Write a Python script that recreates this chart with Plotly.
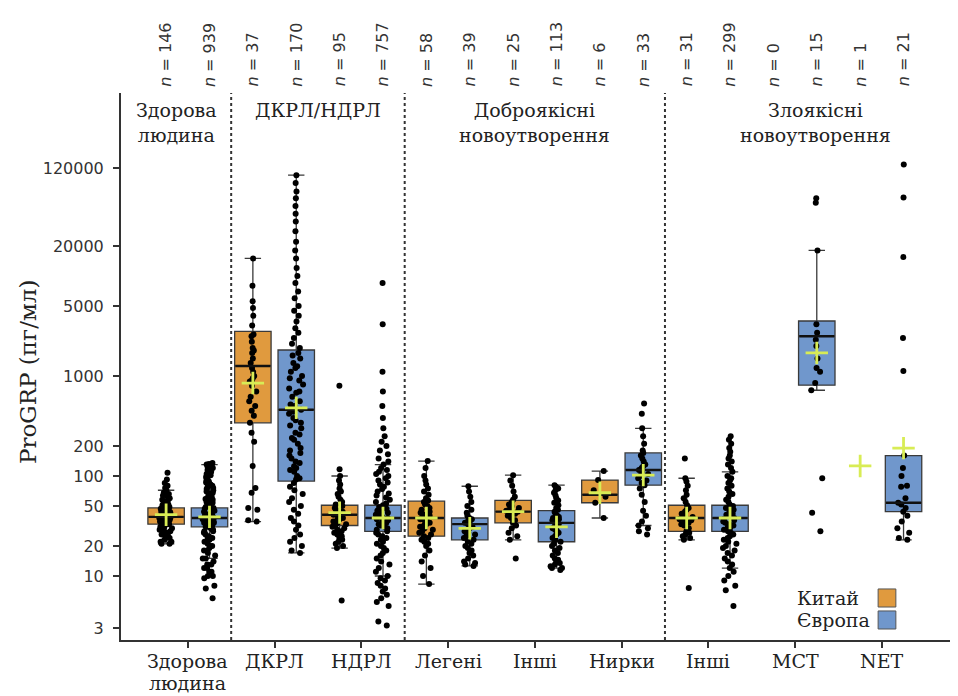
import plotly.graph_objects as go

# ---------------- data ----------------
categories = ["Здорова<br>людина", "ДКРЛ", "НДРЛ", "Легені", "Інші", "Нирки", "Інші", "MCT", "NET"]
group_titles = ["Здорова<br>людина", "ДКРЛ/НДРЛ", "Доброякісні<br>новоутворення", "Злоякісні<br>новоутворення"]
group_members = [[0], [1, 2], [3, 4, 5], [6, 7, 8]]

n_china = [146, 37, 95, 58, 25, 6, 31, 0, 1]
n_europe = [939, 170, 757, 39, 113, 33, 299, 15, 21]

# box statistics (pg/ml)
cn_q1 = [33, 340, 32, 25, 34, 54, 28, None, None]
cn_med = [39, 1260, 41, 38, 44, 65, 38, None, None]
cn_q3 = [48, 2800, 51, 56, 57, 91, 51, None, None]
cn_lo = [21, 35, 19, 8.3, 23, 38, 23, None, None]
cn_hi = [72, 15000, 100, 141, 102, 112, 95, None, None]
cn_mean = [41, 850, 43, 38, 44, 68, 38, None, 126]

eu_q1 = [31, 89, 28, 23, 22, 81, 28, 810, 44]
eu_med = [38, 460, 38, 33, 34, 115, 38, 2500, 54]
eu_q3 = [48, 1820, 51, 38, 45, 170, 51, 3550, 160]
eu_lo = [15, 17, 10, 12.6, 12, 32, 12, 720, 23]
eu_hi = [130, 102000, 130, 79, 81, 300, 110, 18000, 160]
eu_mean = [39, 480, 38, 30, 31, 102, 38, 1700, 190]

cn_points = [
    [108, 92, 85, 80, 76, 72, 70, 68, 66, 64, 62, 60, 58, 57, 55, 54, 52, 51, 50, 49, 48, 47, 46, 45, 44, 44,
     43, 42, 42, 41, 40, 40, 39, 39, 38, 38, 37, 37, 36, 36, 35, 35, 34, 34, 33, 33, 32, 31, 31, 30, 30, 29,
     28, 28, 27, 26, 26, 25, 24, 24, 23, 22, 22, 21, 21],
    [15000, 8000, 5600, 4800, 4000, 3200, 2600, 2500, 2200, 1900, 1800, 1700, 1500, 1350, 1200, 1100, 1000,
     950, 900, 880, 800, 700, 620, 560, 500, 450, 400, 340, 270, 220, 126, 76, 68, 48, 46, 36, 35],
    [800, 117, 100, 90, 82, 75, 70, 66, 62, 58, 55, 52, 50, 48, 46, 45, 44, 43, 42, 41, 40, 39, 38, 37, 36,
     35, 34, 33, 32, 31, 30, 29, 28, 27, 26, 25, 24, 23, 22, 21, 20, 19, 5.7],
    [141, 120, 100, 90, 82, 75, 70, 65, 60, 57, 55, 52, 50, 48, 46, 44, 43, 42, 41, 40, 39, 38, 37, 36, 35,
     34, 33, 32, 31, 30, 29, 28, 27, 26, 25, 24, 23, 22, 21, 20, 18, 16, 14, 12, 10, 8.3],
    [102, 90, 80, 70, 62, 58, 55, 52, 50, 48, 46, 45, 44, 43, 42, 40, 38, 36, 34, 32, 30, 27, 25, 23, 15],
    [112, 91, 72, 62, 54, 38],
    [150, 95, 88, 80, 72, 65, 60, 55, 51, 48, 46, 44, 42, 40, 39, 38, 37, 36, 35, 34, 33, 32, 30, 28, 27,
     26, 25, 24, 23, 7.6],
    [],
    [],
]
eu_points = [
    [135, 132, 130, 128, 125, 122, 120, 118, 115, 112, 110, 108, 105, 102, 100, 98, 95, 92, 90, 88, 86, 84,
     82, 80, 78, 76, 74, 72, 70, 68, 66, 64, 62, 60, 59, 58, 56, 55, 54, 52, 51, 50, 49, 48, 47, 46, 45, 44,
     43, 42, 41, 40, 40, 39, 38, 38, 37, 36, 36, 35, 34, 34, 33, 32, 31, 31, 30, 29, 28, 28, 27, 26, 25, 24,
     24, 23, 22, 21, 20, 20, 19, 18, 18, 17, 16, 15, 15, 14, 13, 13, 12, 12, 11, 11, 10, 10, 9.5, 8, 7.5, 6],
    [102000, 85000, 70000, 60000, 50000, 42000, 35000, 28000, 22000, 18000, 15000, 12000, 10000, 8500, 7000,
     6000, 5000, 4500, 4000, 3500, 3000, 2700, 2400, 2100, 1900, 1700, 1600, 1500, 1350, 1250, 1200, 1100,
     1000, 950, 900, 820, 750, 700, 680, 620, 560, 520, 500, 460, 440, 420, 380, 360, 340, 320, 300, 270,
     260, 240, 230, 210, 190, 180, 170, 160, 150, 140, 135, 125, 120, 115, 110, 100, 95, 92, 85, 78, 72, 66,
     60, 55, 50, 46, 42, 38, 35, 32, 29, 26, 24, 22, 20, 18, 17],
    [8500, 3300, 1100, 700, 500, 380, 300, 250, 220, 200, 180, 165, 150, 140, 130, 120, 115, 110, 105, 100,
     95, 90, 86, 82, 78, 74, 70, 67, 64, 61, 58, 55, 53, 51, 49, 47, 45, 44, 43, 42, 41, 40, 39, 38, 37, 36,
     35, 34, 33, 32, 31, 30, 29, 28, 27, 26, 25, 24, 23, 22, 21, 20, 19, 18, 17, 16, 15, 14, 13, 12, 11, 10,
     9.5, 9, 8.5, 8, 7.5, 7, 6.5, 6, 5.5, 5, 3.5, 3.2],
    [79, 70, 62, 55, 50, 46, 43, 40, 38, 37, 36, 35, 34, 33, 32, 31, 30, 29, 28, 27, 26, 25, 24, 23, 22, 21,
     20, 19, 18, 17, 16, 15, 14, 13.5, 13, 12.6],
    [81, 78, 75, 72, 68, 64, 60, 57, 54, 51, 48, 46, 44, 42, 40, 39, 38, 37, 36, 35, 34, 33, 32, 31, 30, 29,
     28, 27, 26, 25, 24, 23, 22, 21, 20, 19, 18, 17, 16, 15, 14.5, 14, 13.5, 13, 12.5, 12, 12, 11.5],
    [530, 420, 300, 250, 210, 180, 170, 160, 150, 140, 130, 125, 120, 115, 110, 105, 100, 95, 90, 85, 81,
     75, 65, 55, 45, 40, 35, 32, 30, 28, 26],
    [250, 230, 210, 190, 175, 160, 150, 140, 130, 120, 110, 100, 95, 90, 85, 80, 75, 70, 66, 62, 58, 55, 52,
     50, 48, 46, 44, 42, 41, 40, 39, 38, 37, 36, 35, 34, 33, 32, 31, 30, 29, 28, 27, 26, 25, 24, 23, 22, 21,
     20, 19, 18, 17, 16, 15, 14, 13, 12, 11, 10, 9, 8, 7.2, 5],
    [60000, 54000, 18000, 3300, 2700, 2300, 2000, 1500, 1200, 1100, 850, 720, 95, 43, 28],
    [130000, 61000, 15500, 2400, 1120, 160, 120, 100, 80, 78, 60, 54, 52, 48, 44, 40, 35, 30, 27, 24, 23],
]

y_tickvals = [3, 10, 20, 50, 100, 200, 1000, 5000, 20000, 120000]
y_ticktext = ["3", "10", "20", "50", "100", "200", "1000", "5000", "20000", "120000"]
legend_names = ["Китай", "Європа"]

# ---------------- style ----------------
C_CN = "#E09A3E"
C_EU = "#7097CC"
C_MEAN = "#D8EC55"
C_LINE = "#3a3a3a"
OFF = 0.25
BOXW = 0.42
X_RANGE = [-0.77, 8.97]
SERIF = "DejaVu Serif"
SANS = "DejaVu Sans"

fig = go.Figure()

series = [
    (C_CN, -OFF, cn_q1, cn_med, cn_q3, cn_lo, cn_hi, cn_mean, cn_points, n_china),
    (C_EU, +OFF, eu_q1, eu_med, eu_q3, eu_lo, eu_hi, eu_mean, eu_points, n_europe),
]

# boxes
for color, off, q1, med, q3, lo, hi, mean, pts, ns in series:
    for i in range(len(categories)):
        if q1[i] is None:
            continue
        fig.add_trace(go.Box(
            x=[i + off], q1=[q1[i]], median=[med[i]], q3=[q3[i]],
            lowerfence=[lo[i]], upperfence=[hi[i]],
            width=BOXW, whiskerwidth=0.45, fillcolor=color,
            line=dict(color=C_LINE, width=1.3), boxpoints=False,
            showlegend=False, hoverinfo="skip"))

# points
for color, off, q1, med, q3, lo, hi, mean, pts, ns in series:
    for i in range(len(categories)):
        if not pts[i]:
            continue
        fig.add_trace(go.Box(
            y=pts[i], x0=i + off, width=BOXW, boxpoints="all", jitter=0.4, pointpos=0,
            fillcolor="rgba(0,0,0,0)", line=dict(width=0, color="rgba(0,0,0,0)"),
            marker=dict(color="black", size=6, line=dict(width=0)),
            showlegend=False, hoverinfo="y"))

# thick median lines
for color, off, q1, med, q3, lo, hi, mean, pts, ns in series:
    xs = [i + off for i in range(len(categories)) if med[i] is not None]
    ys = [m for m in med if m is not None]
    fig.add_trace(go.Scatter(
        x=xs, y=ys, mode="markers",
        marker=dict(symbol="line-ew", size=25, line=dict(width=2.4, color="#111")),
        showlegend=False, hoverinfo="y"))

# means
for color, off, q1, med, q3, lo, hi, mean, pts, ns in series:
    xs = [i + off for i in range(len(categories)) if mean[i] is not None]
    ys = [m for m in mean if m is not None]
    fig.add_trace(go.Scatter(
        x=xs, y=ys, mode="markers",
        marker=dict(symbol="cross-thin", size=16, line=dict(width=2.8, color=C_MEAN)),
        showlegend=False, hoverinfo="y"))

# separators between groups
bounds = [X_RANGE[0]] + [g[-1] + 0.5 for g in group_members[:-1]] + [X_RANGE[1]]
for b in bounds[1:-1]:
    fig.add_shape(type="line", x0=b, x1=b, y0=0, y1=1, xref="x", yref="paper",
                  line=dict(color="#333333", width=2, dash="dot"))

annotations = []
# group titles
for gi, title in enumerate(group_titles):
    annotations.append(dict(x=(bounds[gi] + bounds[gi + 1]) / 2, y=0.993, xref="x", yref="paper",
                            text=title, showarrow=False, yanchor="top", xanchor="center",
                            font=dict(family=SERIF, size=19, color="#222")))
# n labels
for color, off, q1, med, q3, lo, hi, mean, pts, ns in series:
    for i, n in enumerate(ns):
        annotations.append(dict(x=i + off, y=1.008, xref="x", yref="paper",
                                text=f"<i>n</i> = {n}", textangle=-90, showarrow=False,
                                yanchor="bottom", xanchor="center",
                                font=dict(family=SANS, size=16, color="#333")))
# x category labels (one annotation per text line, tight spacing)
for i, lab in enumerate(categories):
    for li, line in enumerate(lab.split("<br>")):
        annotations.append(dict(x=i, y=0, xref="x", yref="paper", text=line, showarrow=False,
                                xanchor="center", yanchor="top", yshift=-8 - 22 * li,
                                font=dict(family=SERIF, size=19, color="#222")))
# y title
annotations.append(dict(x=-0.11, y=0.49, xref="paper", yref="paper", text="ProGRP (пг/мл)",
                        textangle=-90, showarrow=False, xanchor="center", yanchor="middle",
                        font=dict(family=SERIF, size=23, color="#222")))
# legend
for k, (name, color) in enumerate(zip(legend_names, [C_CN, C_EU])):
    yc = 0.0768 - k * 0.0402
    annotations.append(dict(x=0.7976, y=yc, xref="paper", yref="paper", text=name, showarrow=False,
                            xanchor="left", yanchor="middle",
                            font=dict(family=SERIF, size=19, color="#222")))
    fig.add_shape(type="rect", xref="paper", yref="paper", x0=0.896, x1=0.917,
                  y0=yc - 0.0165, y1=yc + 0.0165, fillcolor=color, line=dict(color="#555", width=1))

fig.update_layout(
    width=958, height=696,
    margin=dict(l=113, r=0, t=85, b=64),
    paper_bgcolor="white", plot_bgcolor="white",
    boxmode="overlay", showlegend=False,
    annotations=annotations,
    xaxis=dict(range=X_RANGE, tickmode="array", tickvals=list(range(len(categories))),
               showticklabels=False, showgrid=False, zeroline=False,
               showline=True, linecolor="#333", linewidth=2,
               ticks="outside", ticklen=6, tickwidth=1.5, tickcolor="#333"),
    yaxis=dict(type="log", range=[0.36, 5.83], tickmode="array", tickvals=y_tickvals,
               ticktext=y_ticktext, showgrid=False, zeroline=False,
               showline=True, linecolor="#333", linewidth=2,
               ticks="outside", ticklen=6, tickwidth=1.5, tickcolor="#333",
               ticklabelstandoff=6,
               tickfont=dict(family=SANS, size=16, color="#333")),
)

fig.write_html("out.html")
